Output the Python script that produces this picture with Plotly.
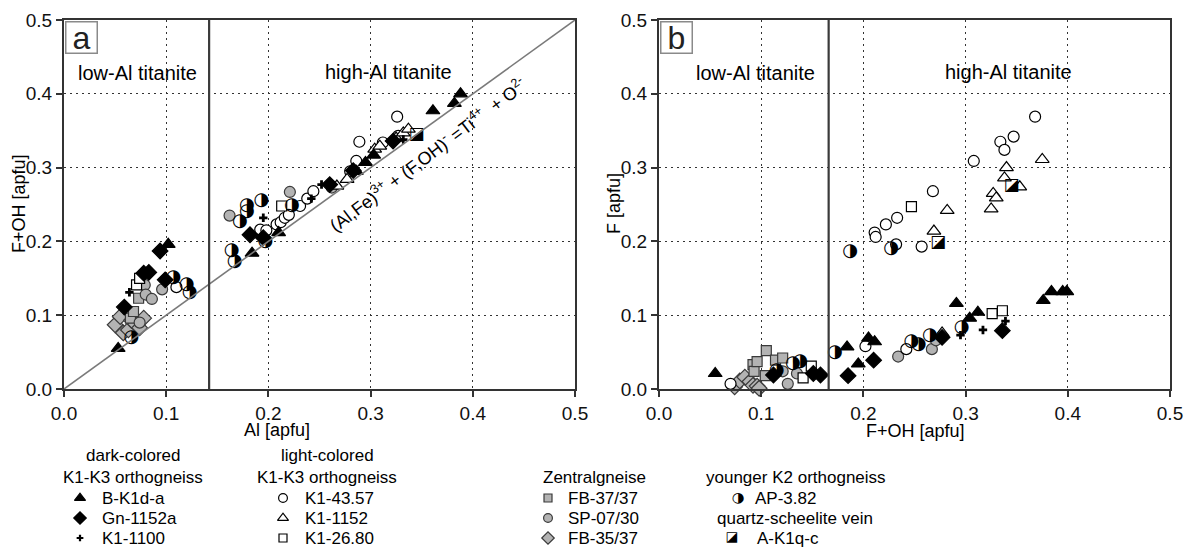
import plotly.graph_objects as go

W, H = 1197, 548

# ---------------- data (apfu) ----------------
# panel a: x = Al, y = F+OH ; panel b: x = F+OH, y = F
bk1da_a_x = [0.053, 0.102, 0.184, 0.210, 0.286, 0.295, 0.303, 0.361, 0.382, 0.388]
bk1da_a_y = [0.055, 0.196, 0.184, 0.212, 0.295, 0.307, 0.317, 0.377, 0.387, 0.400]
bk1da_b_x = [0.055, 0.184, 0.195, 0.205, 0.211, 0.291, 0.304, 0.312, 0.376, 0.384, 0.395, 0.399]
bk1da_b_y = [0.021, 0.057, 0.034, 0.069, 0.064, 0.116, 0.096, 0.104, 0.120, 0.132, 0.132, 0.132]

gn1152a_a_x = [0.059, 0.078, 0.083, 0.094, 0.099, 0.182, 0.195, 0.260, 0.283, 0.322]
gn1152a_a_y = [0.111, 0.157, 0.158, 0.187, 0.148, 0.209, 0.205, 0.277, 0.296, 0.336]
gn1152a_b_x = [0.112, 0.151, 0.158, 0.185, 0.210, 0.277, 0.336]
gn1152a_b_y = [0.019, 0.021, 0.019, 0.018, 0.039, 0.070, 0.079]

k11100_a_x = [0.064, 0.195, 0.242, 0.252, 0.332]
k11100_a_y = [0.131, 0.232, 0.258, 0.277, 0.338]
k11100_b_x = [0.295, 0.317, 0.339]
k11100_b_y = [0.073, 0.080, 0.092]

k14357_a_x = [0.110, 0.192, 0.198, 0.208, 0.212, 0.216, 0.220, 0.231, 0.238, 0.244,
              0.280, 0.286, 0.289, 0.312, 0.327, 0.326]
k14357_a_y = [0.138, 0.216, 0.215, 0.223, 0.226, 0.232, 0.236, 0.248, 0.258, 0.268,
              0.295, 0.309, 0.335, 0.334, 0.343, 0.369]
k14357_b_x = [0.070, 0.202, 0.242, 0.211, 0.212, 0.222, 0.233, 0.232, 0.257, 0.268,
              0.308, 0.334, 0.338, 0.347, 0.368]
k14357_b_y = [0.007, 0.058, 0.054, 0.212, 0.206, 0.223, 0.232, 0.196, 0.193, 0.268,
              0.309, 0.335, 0.324, 0.342, 0.369]

k11152_a_x = [0.267, 0.277, 0.304, 0.309, 0.325, 0.332, 0.337]
k11152_a_y = [0.275, 0.284, 0.325, 0.329, 0.340, 0.347, 0.352]
k11152_b_x = [0.277, 0.269, 0.282, 0.325, 0.327, 0.330, 0.338, 0.340, 0.353, 0.375]
k11152_b_y = [0.076, 0.214, 0.242, 0.244, 0.265, 0.259, 0.286, 0.300, 0.274, 0.311]

k12680_a_x = [0.071, 0.074, 0.213]
k12680_a_y = [0.141, 0.150, 0.248]
k12680_b_x = [0.141, 0.149, 0.247, 0.326, 0.336]
k12680_b_y = [0.015, 0.031, 0.247, 0.102, 0.106]

fb3737_a_x = [0.065, 0.068, 0.073]
fb3737_a_y = [0.096, 0.105, 0.123]
fb3737_b_x = [0.092, 0.093, 0.096, 0.104, 0.105, 0.114, 0.121]
fb3737_b_y = [0.033, 0.024, 0.037, 0.018, 0.052, 0.039, 0.042]

sp0730_a_x = [0.074, 0.079, 0.080, 0.086, 0.096, 0.162, 0.221, 0.262]
sp0730_a_y = [0.090, 0.141, 0.128, 0.122, 0.135, 0.235, 0.267, 0.273]
sp0730_b_x = [0.121, 0.126, 0.135, 0.234, 0.267, 0.271]
sp0730_b_y = [0.024, 0.007, 0.021, 0.044, 0.054, 0.066]

fb3537_a_x = [0.050, 0.055, 0.058, 0.063, 0.066, 0.070, 0.074, 0.078]
fb3537_a_y = [0.087, 0.098, 0.076, 0.080, 0.093, 0.088, 0.083, 0.096]
fb3537_b_x = [0.074, 0.079, 0.084, 0.089, 0.092, 0.096, 0.098]
fb3537_b_y = [0.003, 0.011, 0.016, 0.010, 0.005, 0.004, 0.001]

ap382_a_x = [0.066, 0.107, 0.120, 0.123, 0.164, 0.167, 0.172, 0.179, 0.179, 0.193, 0.197, 0.223]
ap382_a_y = [0.070, 0.151, 0.141, 0.131, 0.188, 0.173, 0.227, 0.249, 0.241, 0.255, 0.200, 0.248]
ap382_b_x = [0.115, 0.131, 0.138, 0.172, 0.187, 0.227, 0.247, 0.254, 0.265, 0.296]
ap382_b_y = [0.025, 0.035, 0.037, 0.049, 0.186, 0.191, 0.064, 0.060, 0.073, 0.084]

ak1qc_a_x = [0.345]
ak1qc_a_y = [0.345]
ak1qc_b_x = [0.273, 0.345]
ak1qc_b_y = [0.198, 0.275]

# boundaries between low-Al and high-Al titanite
split_a = 0.142
split_b = 0.166

# legend content
legend_heads = ["dark-colored", "K1-K3 orthogneiss", "light-colored", "K1-K3 orthogneiss",
                "Zentralgneise", "younger K2 orthogneiss", "quartz-scheelite vein"]

# ---------------- styles ----------------
GREY = "#b3b3b3"
FONT = "Liberation Sans, Arial, sans-serif"

STYLES = {
    "B-K1d-a":  dict(kind="m", symbol="triangle-up", color="black", line="black", size=12),
    "Gn-1152a": dict(kind="m", symbol="diamond", color="black", line="black", size=12),
    "K1-1100":  dict(kind="m", symbol="cross", color="black", line="black", size=7),
    "K1-43.57": dict(kind="m", symbol="circle", color="white", line="black", size=11),
    "K1-1152":  dict(kind="m", symbol="triangle-up", color="white", line="black", size=12),
    "K1-26.80": dict(kind="m", symbol="square", color="white", line="black", size=10),
    "FB-37/37": dict(kind="m", symbol="square", color=GREY, line="#3a3a3a", size=10),
    "SP-07/30": dict(kind="m", symbol="circle", color=GREY, line="#3a3a3a", size=11),
    "FB-35/37": dict(kind="m", symbol="diamond", color=GREY, line="#3a3a3a", size=12),
    "AP-3.82":  dict(kind="t", glyph="\u25D1", size=18),
    "A-K1q-c":  dict(kind="t", glyph="\u25EA", size=17),
}

DATA = {
    "B-K1d-a": (bk1da_a_x, bk1da_a_y, bk1da_b_x, bk1da_b_y),
    "Gn-1152a": (gn1152a_a_x, gn1152a_a_y, gn1152a_b_x, gn1152a_b_y),
    "K1-1100": (k11100_a_x, k11100_a_y, k11100_b_x, k11100_b_y),
    "K1-43.57": (k14357_a_x, k14357_a_y, k14357_b_x, k14357_b_y),
    "K1-1152": (k11152_a_x, k11152_a_y, k11152_b_x, k11152_b_y),
    "K1-26.80": (k12680_a_x, k12680_a_y, k12680_b_x, k12680_b_y),
    "FB-37/37": (fb3737_a_x, fb3737_a_y, fb3737_b_x, fb3737_b_y),
    "SP-07/30": (sp0730_a_x, sp0730_a_y, sp0730_b_x, sp0730_b_y),
    "FB-35/37": (fb3537_a_x, fb3537_a_y, fb3537_b_x, fb3537_b_y),
    "AP-3.82": (ap382_a_x, ap382_a_y, ap382_b_x, ap382_b_y),
    "A-K1q-c": (ak1qc_a_x, ak1qc_a_y, ak1qc_b_x, ak1qc_b_y),
}


def symbol_trace(name, x, y, xa, ya, scale=1.0):
    st = STYLES[name]
    if st["kind"] == "m":
        return go.Scatter(
            x=x, y=y, xaxis=xa, yaxis=ya, mode="markers", showlegend=False,
            cliponaxis=False, hoverinfo="skip",
            marker=dict(symbol=st["symbol"], size=st["size"] * scale, color=st["color"],
                        line=dict(color=st["line"], width=1.2 if st["symbol"] != "cross" else 0)))
    return go.Scatter(
        x=x, y=y, xaxis=xa, yaxis=ya, mode="text", text=[st["glyph"]] * len(x),
        textposition="middle center", showlegend=False, cliponaxis=False, hoverinfo="skip",
        textfont=dict(family="DejaVu Sans", size=st["size"] * scale, color="black"))


def label(x, y, text, size=18, xref="paper", yref="paper", xanchor="center",
          yanchor="middle", **kw):
    return dict(xref=xref, yref=yref, x=x, y=y, text=text, showarrow=False,
                xanchor=xanchor, yanchor=yanchor,
                font=dict(family=FONT, size=size, color="black"), **kw)


fig = go.Figure()

# reference lines
fig.add_shape(type="line", xref="x", yref="y", x0=0, y0=0, x1=0.5, y1=0.5,
              line=dict(color="#7a7a7a", width=1.6))
fig.add_shape(type="line", xref="x", yref="y domain", x0=split_a, x1=split_a, y0=0, y1=1,
              line=dict(color="#3a3a3a", width=2.2))
fig.add_shape(type="line", xref="x2", yref="y2 domain", x0=split_b, x1=split_b, y0=0, y1=1,
              line=dict(color="#3a3a3a", width=2.2))

draw_order = ["FB-35/37", "FB-37/37", "SP-07/30", "K1-43.57", "K1-1152", "K1-26.80",
              "AP-3.82", "A-K1q-c", "B-K1d-a", "Gn-1152a", "K1-1100"]
for nm in draw_order:
    ax_, ay_, bx_, by_ = DATA[nm]
    fig.add_trace(symbol_trace(nm, ax_, ay_, "x", "y"))
    fig.add_trace(symbol_trace(nm, bx_, by_, "x2", "y2"))

# ---------------- legend block (pixel-space axis) ----------------
rows = [455, 477, 498, 518, 538]
legend_items = [
    ("B-K1d-a", 80, 100, rows[2]), ("Gn-1152a", 80, 100, rows[3]), ("K1-1100", 80, 100, rows[4]),
    ("K1-43.57", 283, 303, rows[2]), ("K1-1152", 283, 303, rows[3]), ("K1-26.80", 283, 303, rows[4]),
    ("FB-37/37", 548, 566, rows[2]), ("SP-07/30", 548, 566, rows[3]), ("FB-35/37", 548, 566, rows[4]),
    ("AP-3.82", 738, 753, rows[2]), ("A-K1q-c", 732, 755, rows[4]),
]
annotations = []
for nm, mx, tx, ry in legend_items:
    fig.add_trace(symbol_trace(nm, [mx], [ry], "x3", "y3", scale=0.8))
    annotations.append(label(tx, ry, nm, size=17, xref="x3", yref="y3", xanchor="left"))

head_pos = [(133, rows[0], "center"), (133, rows[1], "center"),
            (327, rows[0], "center"), (327, rows[1], "center"),
            (541, rows[1], "left"), (796, rows[1], "center"), (795, rows[3], "center")]
for txt, (hx, hy, anc) in zip(legend_heads, head_pos):
    annotations.append(label(hx, hy, txt, size=17, xref="x3", yref="y3", xanchor=anc))


# ---------------- panel texts ----------------
def px_x(p):
    return p / W


def px_y(p):
    return 1 - p / H


annotations += [
    label(px_x(137), px_y(73), "low-Al titanite", size=20),
    label(px_x(388), px_y(72), "high-Al titanite", size=20),
    label(px_x(755), px_y(73), "low-Al titanite", size=20),
    label(px_x(1008), px_y(72), "high-Al titanite", size=20),
    label(0.356, 0.318,
          "(Al,Fe)<sup>3+</sup> + (F,OH)<sup>-</sup> =Ti<sup>4+</sup>  + O<sup>2-</sup>",
          size=18, xref="x", yref="y", textangle=-37),
    # axis titles
    label(px_x(277), px_y(430), "Al [apfu]"),
    label(px_x(915), px_y(431), "F+OH [apfu]"),
    label(px_x(19), px_y(204), "F+OH [apfu]", textangle=-90),
    label(px_x(614), px_y(204), "F [apfu]", textangle=-90),
]
# panel letters in framed boxes
for letter, left in (("a", 64), ("b", 659)):
    annotations.append(dict(xref="paper", yref="paper", x=px_x(left + 1), y=px_y(21),
                            xanchor="left", yanchor="top", text=letter, showarrow=False,
                            width=28, height=28, bordercolor="#8a8a8a", borderwidth=1.5,
                            borderpad=1, bgcolor="white",
                            font=dict(family=FONT, size=32, color="#222")))

axis_common = dict(range=[0, 0.5], dtick=0.1, tick0=0, tickformat=".1f",
                   showline=True, linecolor="#333333", linewidth=2, mirror=True,
                   ticks="outside", ticklen=6, tickwidth=1.5, tickcolor="#333333",
                   showgrid=True, gridcolor="#333333", gridwidth=1.3, griddash="2px,4px",
                   zeroline=False, fixedrange=True, automargin=False,
                   tickfont=dict(family=FONT, size=19, color="#111"))

ydom = [px_y(389), px_y(20)]
fig.update_layout(
    width=W, height=H,
    margin=dict(l=0, r=0, t=0, b=0, autoexpand=False),
    paper_bgcolor="white", plot_bgcolor="rgba(0,0,0,0)",
    showlegend=False,
    xaxis=dict(domain=[px_x(64), px_x(575)], anchor="y", **axis_common),
    yaxis=dict(domain=ydom, anchor="x", **axis_common),
    xaxis2=dict(domain=[px_x(659), px_x(1170)], anchor="y2", **axis_common),
    yaxis2=dict(domain=ydom, anchor="x2", **axis_common),
    xaxis3=dict(domain=[0, 1], range=[0, W], anchor="y3", visible=False, fixedrange=True,
                automargin=False),
    yaxis3=dict(domain=[0, 1], range=[H, 0], anchor="x3", visible=False, fixedrange=True,
                automargin=False),
    annotations=annotations,
)

fig.write_html("out.html")
